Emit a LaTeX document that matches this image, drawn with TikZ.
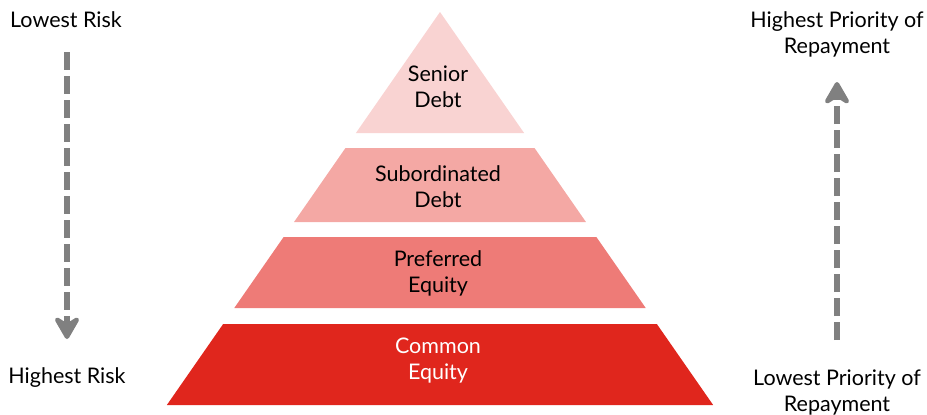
\documentclass[tikz,border=0pt]{standalone}
\usepackage{fontspec}
\setmainfont{Lato}
\usetikzlibrary{arrows.meta}
\usetikzlibrary{positioning}

\definecolor{layerA}{HTML}{F9D3D2}
\definecolor{layerB}{HTML}{F4A8A4}
\definecolor{layerC}{HTML}{EE7B77}
\definecolor{layerD}{HTML}{E0261D}
\definecolor{arrowgray}{HTML}{808080}

\tikzset{
  label text/.style={align=center,font=\fontsize{21.5}{26}\selectfont},
  risk arrow/.style={draw=arrowgray,line width=6pt,dash pattern=on 18pt off 6pt,
    -{Stealth[length=28pt,width=32pt,inset=10pt,round]}}
}

\begin{document}
\begin{tikzpicture}[x=1pt,y=-1pt]
    \useasboundingbox (0,0) rectangle (927,415);
    \pgfmathsetmacro{\s}{0.695}
    \pgfmathsetmacro{\ax}{440}
    \pgfmathsetmacro{\ay}{12}
    % pyramid layers
    \fill[layerA] (\ax,\ay) -- ({\ax-\s*(133-\ay)},133) -- ({\ax+\s*(133-\ay)},133) -- cycle;
    \foreach \yt/\yb/\col in {148/222/layerB,237/308/layerC,324/405/layerD}{
      \fill[\col] ({\ax-\s*(\yt-\ay)},\yt) -- ({\ax+\s*(\yt-\ay)},\yt)
        -- ({\ax+\s*(\yb-\ay)},\yb) -- ({\ax-\s*(\yb-\ay)},\yb) -- cycle;
    }
    \node[label text] (senior) at (438,87) {Senior\\Debt};
    \node[label text] (sub) at (438,187) {Subordinated\\Debt};
    \node[label text] (pref) at (438,273) {Preferred\\Equity};
    \node[label text,text=white] (common) at (438,361) {Common\\Equity};

    % side labels
    \node[label text] (lowrisk) at (66,20) {Lowest Risk};
    \node[label text] (highrisk) at (67,378) {Highest Risk};
    \node[label text] (highprio) at (837,34) {Highest Priority of\\Repayment};
    \node[label text] (lowprio) at (837,392) {Lowest Priority of\\Repayment};

    \path (67,52) coordinate (L1) (67,339) coordinate (L2)
      (837,340) coordinate (R1) (837,82) coordinate (R2);
    \draw[risk arrow] (L1) -- (L2);
    \draw[risk arrow] (R1) -- (R2);
\end{tikzpicture}
\end{document}
